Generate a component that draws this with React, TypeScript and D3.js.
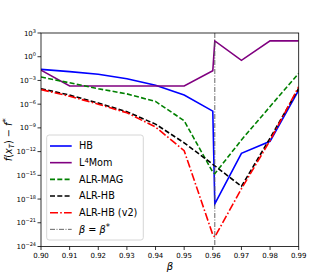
import * as d3 from "d3";

// beta values (0.9607 is beta*)
const betas = [0.9, 0.91, 0.92, 0.93, 0.94, 0.95, 0.96, 0.9607, 0.97, 0.98, 0.99];
const betaStar = 0.9607;

const hb = [2.5e-2, 1.3e-2, 6e-3, 1.6e-3, 2.5e-4, 1.4e-5, 1.3e-7, 2.5e-19, 6e-13, 2e-11, 6e-5];
const l4mom = [2e-2, 2e-4, 2e-4, 2e-4, 2e-4, 2e-4, 1.7e-2, 1e2, 3.5e-1, 1e2, 1e2];
const alrMag = [2.7e-3, 5e-4, 9e-5, 2e-5, 2.2e-6, 8e-9, 2.5e-15, 1.6e-15, 3e-11, 5e-7, 8e-3];
const alrHb = [9e-5, 1.4e-5, 1.4e-6, 1.1e-7, 3e-9, 1.3e-11, 2.5e-14, 1.6e-14, 4e-17, 5e-11, 1e-4];
const alrHbV2 = [7e-5, 1e-5, 1e-6, 8e-8, 1.3e-9, 1.3e-12, 3e-23, 1.6e-23, 2e-17, 2.5e-11, 1.6e-4];

const xTicks = [0.9, 0.91, 0.92, 0.93, 0.94, 0.95, 0.96, 0.97, 0.98, 0.99];
const yTickExps = [3, 0, -3, -6, -9, -12, -15, -18, -21, -24];

const W = 332;
const H = 277;
const m = { left: 41, right: 33.3, top: 33, bottom: 30.5 };

const series = [
  { name: "HB", data: hb, color: "#0000ff", dash: "" },
  { name: "L4Mom", data: l4mom, color: "#800080", dash: "" },
  { name: "ALR-MAG", data: alrMag, color: "#008000", dash: "5,2.3" },
  { name: "ALR-HB", data: alrHb, color: "#000000", dash: "5,2.3" },
  { name: "ALR-HB (v2)", data: alrHbV2, color: "#ff0000", dash: "8,2.2,1.6,2.2" },
];

export default function App() {
  const x = d3.scaleLinear().domain([0.9, 0.99]).range([m.left, W - m.right]);
  const y = d3.scaleLog().domain([1e-24, 1e3]).range([H - m.bottom, m.top]);
  const font = "DejaVu Sans, sans-serif";

  const line = (vals: number[]) =>
    d3
      .line<number>()
      .x((_, i) => x(betas[i]))
      .y((d) => y(d))(vals) || "";

  const legendX = 46.7;
  const legendY = 135;
  const rowH = 16.67;

  return (
    <svg width={W} height={H} style={{ position: "absolute", left: 0, top: 0, fontFamily: font }}>
      <rect width={W} height={H} fill="#fff" />
      <defs>
        <clipPath id="plot">
          <rect x={m.left} y={m.top} width={W - m.left - m.right} height={H - m.top - m.bottom} />
        </clipPath>
      </defs>

      <g clipPath="url(#plot)">
        {series.map((s) => (
          <path key={s.name} d={line(s.data)} fill="none" stroke={s.color} strokeWidth={1.6} strokeDasharray={s.dash} />
        ))}
        <line
          x1={x(betaStar)}
          x2={x(betaStar)}
          y1={m.top}
          y2={H - m.bottom}
          stroke="#555"
          strokeWidth={0.9}
          strokeDasharray="5,1.5,1,1.5"
        />
      </g>

      {/* frame */}
      <rect
        x={m.left}
        y={m.top}
        width={W - m.left - m.right}
        height={H - m.top - m.bottom}
        fill="none"
        stroke="#000"
        strokeWidth={0.8}
      />

      {/* x ticks */}
      {xTicks.map((t) => (
        <g key={t}>
          <line x1={x(t)} x2={x(t)} y1={H - m.bottom} y2={H - m.bottom + 3.5} stroke="#000" strokeWidth={0.8} />
          <text x={x(t)} y={H - m.bottom + 11.5} fontSize={7} textAnchor="middle">
            {t.toFixed(2)}
          </text>
        </g>
      ))}
      <text x={(m.left + W - m.right) / 2} y={270} fontSize={10} fontStyle="italic" textAnchor="middle">
        β
      </text>

      {/* y ticks */}
      {yTickExps.map((e) => (
        <g key={e}>
          <line x1={m.left - 3.5} x2={m.left} y1={y(Math.pow(10, e))} y2={y(Math.pow(10, e))} stroke="#000" strokeWidth={0.8} />
          <text x={m.left - 5} y={y(Math.pow(10, e)) + 2.6} fontSize={7} textAnchor="end">
            10
            <tspan fontSize={5} dy={-3}>
              {e < 0 ? "−" + Math.abs(e) : String(e)}
            </tspan>
          </text>
        </g>
      ))}
      <text
        transform={`translate(12,${(m.top + H - m.bottom) / 2}) rotate(-90)`}
        fontSize={9.7}
        textAnchor="middle"
      >
        <tspan fontStyle="italic">f</tspan>(<tspan fontStyle="italic">x</tspan>
        <tspan fontSize={7} fontStyle="italic" dy={2}>T</tspan>
        <tspan dy={-2}>) − </tspan>
        <tspan fontStyle="italic">f</tspan>
        <tspan fontSize={8.5} dy={-3}>*</tspan>
      </text>

      {/* legend */}
      <rect
        x={legendX}
        y={legendY}
        width={96.6}
        height={105}
        rx={2.5}
        fill="#fff"
        fillOpacity={0.85}
        stroke="#ccc"
        strokeWidth={0.8}
      />
      {series.map((s, i) => {
        const ly = legendY + 11 + i * rowH;
        return (
          <g key={s.name}>
            <line x1={50} x2={71.7} y1={ly} y2={ly} stroke={s.color} strokeWidth={1.6} strokeDasharray={s.dash} />
            <text x={79} y={ly + 3.4} fontSize={9.7}>
              {s.name === "L4Mom" ? (
                <>
                  L<tspan fontSize={6.8} dy={-3.5}>4</tspan>
                  <tspan dy={3.5}>Mom</tspan>
                </>
              ) : (
                s.name
              )}
            </text>
          </g>
        );
      })}
      {(() => {
        const ly = legendY + 11 + 5 * rowH;
        return (
          <g>
            <line x1={50} x2={71.7} y1={ly} y2={ly} stroke="#555" strokeWidth={0.9} strokeDasharray="5,1.5,1,1.5" />
            <text x={79} y={ly + 3.4} fontSize={9.7}>
              <tspan fontStyle="italic">β</tspan> = <tspan fontStyle="italic">β</tspan>
              <tspan fontSize={8.5} dy={-3}>*</tspan>
            </text>
          </g>
        );
      })()}
    </svg>
  );
}
